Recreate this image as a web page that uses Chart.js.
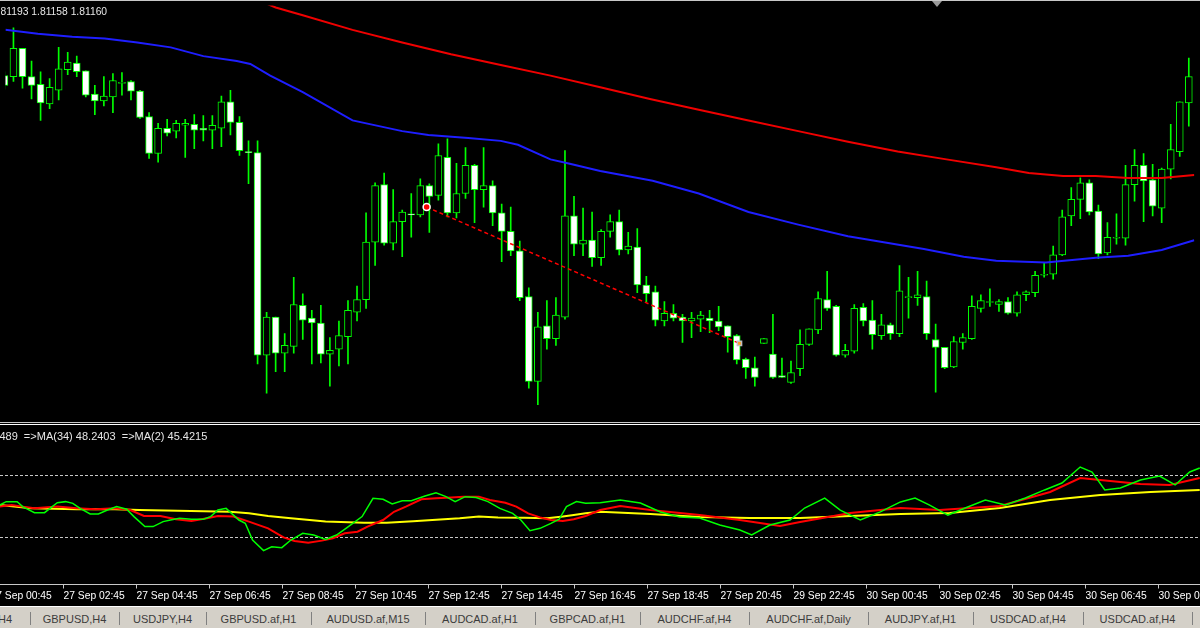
<!DOCTYPE html>
<html>
<head>
<meta charset="utf-8">
<title>GBPCAD M15</title>
<script src="https://cdn.jsdelivr.net/npm/chart.js@4.4.1/dist/chart.umd.min.js"></script>
<style>
  body { margin: 0; width: 1200px; height: 628px; background: #000; overflow: hidden; position: relative; font-family: "Liberation Sans", Arial, sans-serif; }
  canvas { position: absolute; left: 0; }
  #chartPreco { top: 0; }
  #chartIndicador { top: 428px; }
  .txt { position: absolute; color: #e6e6e6; font-size: 10.3px; line-height: 11px; white-space: pre; }
  #bordaTopo { position: absolute; left: 0; top: 0; width: 1200px; height: 1px; background: #c8c8c8; }
  #marcaShift { position: absolute; left: 932px; top: 1px; width: 0; height: 0; border-left: 5px solid transparent; border-right: 5px solid transparent; border-top: 6px solid #9a9a9a; }
  .linhaSep { position: absolute; left: 0; width: 1200px; height: 1px; }
  #abas { position: absolute; left: 0; top: 606px; width: 1200px; height: 22px; background: #d4d0c8; border-top: 1px solid #ffffff; box-sizing: border-box; }
  .aba { position: absolute; top: 6px; font-size: 11px; line-height: 13px; color: #3c3c3c; white-space: nowrap; transform: translateX(-50%); }
  .barra { position: absolute; top: 5px; width: 1px; height: 13px; background: #808080; }
</style>
</head>
<body>
<canvas id="chartPreco" width="1200" height="421"></canvas>
<canvas id="chartIndicador" width="1200" height="178"></canvas>
<div id="bordaTopo"></div>
<div id="marcaShift"></div>
<div class="linhaSep" style="top:422px;background:#c8c8c8"></div>
<div class="linhaSep" style="top:424px;background:#ffffff"></div>
<div class="txt" style="left:-8px;top:6px">1.81193 1.81158 1.81160</div>
<div class="txt" style="left:-22px;top:431px;font-size:11px">46.5489  =>MA(34) 48.2403  =>MA(2) 45.4215</div>
<div id="abas"></div>
<script>
// Velas M15 (da esquerda para a direita)
const open = [
  1.81928, 1.81927, 1.81956, 1.81927, 1.81919, 1.81899, 1.81913, 1.81934, 1.81941, 1.81933,
  1.81909, 1.81902, 1.81906, 1.81920, 1.81922, 1.81912, 1.81886, 1.81848, 1.81874, 1.81871,
  1.81877, 1.81878, 1.81874, 1.81872, 1.81874, 1.81901, 1.81880, 1.81850, 1.81849, 1.81641,
  1.81680, 1.81643, 1.81650, 1.81692, 1.81679, 1.81674, 1.81642, 1.81647, 1.81660, 1.81685,
  1.81698, 1.81757, 1.81816, 1.81756, 1.81778, 1.81786, 1.81785, 1.81815, 1.81805, 1.81844,
  1.81787, 1.81807, 1.81836, 1.81811, 1.81815, 1.81787, 1.81768, 1.81748, 1.81701, 1.81614,
  1.81671, 1.81658, 1.81680, 1.81784, 1.81755, 1.81759, 1.81741, 1.81768, 1.81778, 1.81749,
  1.81752, 1.81713, 1.81706, 1.81676, 1.81684, 1.81680, 1.81676, 1.81678, 1.81679, 1.81676,
  1.81671, 1.81661, 1.81637, 1.81628, 1.81653, 1.81642, 1.81620, 1.81613, 1.81627, 1.81652,
  1.81667, 1.81698, 1.81691, 1.81641, 1.81645, 1.81690, 1.81677, 1.81661, 1.81672, 1.81663,
  1.81700, 1.81700, 1.81701, 1.81657, 1.81649, 1.81629, 1.81654, 1.81658, 1.81689, 1.81695,
  1.81693, 1.81696, 1.81684, 1.81703, 1.81705, 1.81723, 1.81724, 1.81744, 1.81784, 1.81801,
  1.81818, 1.81789, 1.81746, 1.81761, 1.81761, 1.81816, 1.81836, 1.81821, 1.81792, 1.81832,
  1.81850, 1.81900
];
const high = [
  1.81932, 1.81977, 1.81956, 1.81943, 1.81932, 1.81925, 1.81957, 1.81952, 1.81948, 1.81933,
  1.81918, 1.81927, 1.81930, 1.81931, 1.81923, 1.81913, 1.81890, 1.81879, 1.81883, 1.81882,
  1.81883, 1.81888, 1.81887, 1.81887, 1.81907, 1.81913, 1.81886, 1.81861, 1.81861, 1.81685,
  1.81680, 1.81663, 1.81721, 1.81704, 1.81687, 1.81692, 1.81659, 1.81676, 1.81697, 1.81712,
  1.81787, 1.81818, 1.81828, 1.81811, 1.81790, 1.81807, 1.81822, 1.81817, 1.81858, 1.81863,
  1.81838, 1.81854, 1.81837, 1.81854, 1.81820, 1.81796, 1.81793, 1.81758, 1.81710, 1.81685,
  1.81697, 1.81700, 1.81851, 1.81804, 1.81792, 1.81788, 1.81770, 1.81785, 1.81790, 1.81767,
  1.81771, 1.81722, 1.81712, 1.81696, 1.81693, 1.81683, 1.81685, 1.81686, 1.81687, 1.81691,
  1.81671, 1.81662, 1.81638, 1.81639, 1.81658, 1.81683, 1.81638, 1.81635, 1.81667, 1.81668,
  1.81706, 1.81727, 1.81692, 1.81652, 1.81693, 1.81694, 1.81697, 1.81683, 1.81674, 1.81733,
  1.81721, 1.81727, 1.81717, 1.81673, 1.81649, 1.81660, 1.81663, 1.81702, 1.81703, 1.81709,
  1.81698, 1.81700, 1.81706, 1.81707, 1.81727, 1.81736, 1.81753, 1.81790, 1.81813, 1.81823,
  1.81821, 1.81795, 1.81777, 1.81786, 1.81836, 1.81852, 1.81848, 1.81837, 1.81833, 1.81878,
  1.81901, 1.81946
];
const low = [
  1.81914, 1.81922, 1.81915, 1.81904, 1.81882, 1.81894, 1.81903, 1.81929, 1.81927, 1.81906,
  1.81888, 1.81897, 1.81890, 1.81908, 1.81903, 1.81884, 1.81843, 1.81839, 1.81866, 1.81864,
  1.81844, 1.81853, 1.81861, 1.81853, 1.81855, 1.81867, 1.81846, 1.81817, 1.81632, 1.81602,
  1.81624, 1.81624, 1.81643, 1.81657, 1.81632, 1.81633, 1.81609, 1.81630, 1.81632, 1.81676,
  1.81689, 1.81733, 1.81754, 1.81749, 1.81742, 1.81762, 1.81783, 1.81767, 1.81800, 1.81783,
  1.81782, 1.81802, 1.81777, 1.81793, 1.81774, 1.81737, 1.81743, 1.81697, 1.81607, 1.81590,
  1.81647, 1.81651, 1.81678, 1.81743, 1.81743, 1.81732, 1.81733, 1.81762, 1.81744, 1.81745,
  1.81705, 1.81696, 1.81671, 1.81671, 1.81676, 1.81654, 1.81659, 1.81665, 1.81664, 1.81666,
  1.81644, 1.81632, 1.81617, 1.81609, 1.81653, 1.81617, 1.81618, 1.81612, 1.81620, 1.81651,
  1.81663, 1.81687, 1.81640, 1.81639, 1.81643, 1.81671, 1.81647, 1.81657, 1.81657, 1.81660,
  1.81679, 1.81692, 1.81657, 1.81603, 1.81627, 1.81628, 1.81647, 1.81657, 1.81685, 1.81691,
  1.81686, 1.81683, 1.81681, 1.81697, 1.81701, 1.81721, 1.81719, 1.81743, 1.81774, 1.81781,
  1.81785, 1.81740, 1.81744, 1.81755, 1.81754, 1.81799, 1.81778, 1.81784, 1.81777, 1.81822,
  1.81845, 1.81876
];
const close = [
  1.81918, 1.81956, 1.81927, 1.81918, 1.81900, 1.81916, 1.81935, 1.81942, 1.81932, 1.81908,
  1.81902, 1.81907, 1.81923, 1.81921, 1.81912, 1.81885, 1.81848, 1.81874, 1.81869, 1.81879,
  1.81879, 1.81872, 1.81872, 1.81877, 1.81901, 1.81880, 1.81851, 1.81849, 1.81641, 1.81680,
  1.81643, 1.81651, 1.81693, 1.81677, 1.81674, 1.81642, 1.81646, 1.81661, 1.81687, 1.81698,
  1.81757, 1.81815, 1.81756, 1.81778, 1.81788, 1.81785, 1.81815, 1.81804, 1.81846, 1.81787,
  1.81807, 1.81836, 1.81811, 1.81815, 1.81787, 1.81768, 1.81748, 1.81700, 1.81614, 1.81670,
  1.81658, 1.81682, 1.81784, 1.81755, 1.81759, 1.81741, 1.81768, 1.81778, 1.81749, 1.81753,
  1.81713, 1.81704, 1.81677, 1.81684, 1.81679, 1.81676, 1.81679, 1.81682, 1.81676, 1.81670,
  1.81660, 1.81636, 1.81628, 1.81618, 1.81658, 1.81618, 1.81618, 1.81623, 1.81652, 1.81668,
  1.81699, 1.81689, 1.81641, 1.81646, 1.81689, 1.81676, 1.81662, 1.81672, 1.81663, 1.81707,
  1.81701, 1.81703, 1.81663, 1.81649, 1.81628, 1.81655, 1.81659, 1.81691, 1.81697, 1.81696,
  1.81696, 1.81684, 1.81703, 1.81706, 1.81723, 1.81724, 1.81744, 1.81783, 1.81801, 1.81818,
  1.81788, 1.81745, 1.81762, 1.81762, 1.81816, 1.81836, 1.81820, 1.81794, 1.81832, 1.81852,
  1.81901, 1.81927
];

// Médias móveis no gráfico de preço (índice da vela, preço)
const maVermelhaX = [26.4, 30.0, 33.0, 38.5, 44.0, 49.4, 54.9, 60.4, 65.9, 71.4, 76.8, 82.3, 87.8, 93.3, 98.8, 104.2, 109.7, 113.3, 117.1, 120.7, 124.3, 128.0, 131.6];
const maVermelhaY = [1.82012, 1.81998, 1.81990, 1.81975, 1.81962, 1.81950, 1.81939, 1.81928, 1.81916, 1.81904, 1.81893, 1.81882, 1.81871, 1.81860, 1.81850, 1.81842, 1.81834, 1.81828, 1.81825, 1.81825, 1.81823, 1.81823, 1.81826];
const maAzulX = [0.1, 3.7, 7.5, 11.1, 14.7, 18.4, 22.0, 25.7, 27.2, 29.4, 33.0, 38.5, 44.0, 46.9, 51.3, 54.9, 56.8, 60.4, 62.3, 65.9, 71.7, 76.8, 82.3, 87.8, 93.3, 101.7, 106.1, 109.7, 115.2, 120.7, 124.3, 128.0, 131.6];
const maAzulY = [1.81975, 1.81971, 1.81968, 1.81966, 1.81962, 1.81957, 1.81948, 1.81943, 1.81940, 1.81928, 1.81911, 1.81882, 1.81871, 1.81867, 1.81864, 1.81861, 1.81857, 1.81842, 1.81838, 1.81830, 1.81820, 1.81807, 1.81788, 1.81775, 1.81763, 1.81750, 1.81742, 1.81738, 1.81736, 1.81741, 1.81743, 1.81749, 1.81759];

// Linha de tendência desenhada no gráfico
const tendenciaX = [46.7, 81.3];
const tendenciaY = [1.81793, 1.81653];

// Indicador (janela inferior, 0 a 100)
const verdeX = [0.1, 0.8, 2.0, 2.6, 3.9, 5.0, 5.6, 6.4, 7.3, 8.1, 8.9, 10.0, 10.9, 11.9, 12.9, 14.0, 14.8, 16.0, 16.9, 18.0, 18.8, 19.8, 21.1, 22.4, 23.2, 24.0, 24.9, 25.5, 26.3, 27.0, 27.8, 29.0, 29.9, 31.0, 32.0, 33.3, 34.5, 35.8, 37.0, 38.3, 39.8, 41.0, 42.1, 43.1, 44.2, 45.2, 46.7, 47.9, 49.0, 50.0, 51.1, 52.3, 53.6, 54.9, 56.3, 57.2, 58.2, 59.3, 60.5, 61.4, 62.2, 63.3, 64.3, 65.9, 68.1, 70.3, 72.5, 74.6, 76.8, 79.0, 81.2, 82.5, 84.5, 86.7, 88.3, 90.5, 92.2, 94.4, 96.6, 98.8, 100.4, 102.0, 104.0, 105.9, 108.1, 110.3, 112.5, 114.6, 116.5, 118.5, 119.8, 121.2, 122.9, 125.1, 127.2, 128.9, 130.5, 131.6];
const verdeV = [50.6, 52.8, 52.8, 49.6, 45.7, 45.7, 48.5, 52.1, 52.8, 51.7, 48.5, 44.9, 44.9, 47.4, 49.6, 47.9, 43.2, 36.8, 36.8, 40.0, 41.0, 42.1, 41.5, 41.5, 43.2, 47.4, 48.5, 45.3, 41.0, 38.9, 28.2, 21.4, 23.9, 23.3, 28.2, 32.5, 31.4, 28.6, 31.4, 36.8, 43.2, 54.9, 54.3, 51.3, 53.4, 53.4, 56.4, 58.5, 56.0, 52.8, 56.0, 55.5, 52.8, 48.5, 45.3, 41.0, 34.2, 35.7, 38.9, 41.5, 49.6, 52.8, 51.7, 52.1, 53.8, 51.9, 46.2, 42.9, 42.3, 37.8, 34.6, 31.4, 37.8, 41.0, 48.7, 55.1, 47.4, 41.0, 46.2, 52.6, 55.1, 50.6, 44.2, 48.7, 53.8, 50.6, 55.1, 60.3, 64.7, 75.0, 71.8, 60.3, 61.5, 66.7, 69.2, 63.5, 71.8, 74.4];
const vermelhoX = [0.1, 1.4, 2.6, 3.9, 6.4, 8.5, 10.6, 12.7, 14.4, 15.9, 17.7, 19.4, 21.1, 22.8, 24.0, 25.7, 27.4, 29.5, 31.2, 32.4, 33.9, 35.4, 36.6, 37.9, 39.3, 40.4, 42.1, 43.3, 44.6, 46.3, 47.9, 49.6, 50.9, 52.6, 53.8, 55.5, 56.7, 58.0, 59.3, 60.5, 61.8, 63.0, 64.3, 65.9, 68.1, 71.4, 76.8, 81.2, 85.6, 87.8, 93.3, 98.8, 103.1, 106.4, 109.7, 115.2, 118.5, 120.7, 125.1, 128.3, 131.6];
const vermelhoV = [49.6, 50.6, 49.6, 48.5, 49.6, 48.5, 47.9, 48.5, 47.4, 43.6, 43.6, 41.5, 40.4, 42.1, 43.6, 43.2, 40.0, 35.7, 29.9, 27.6, 26.5, 27.8, 29.3, 32.5, 33.5, 36.8, 41.0, 46.3, 49.6, 54.3, 54.9, 55.5, 56.0, 56.0, 53.8, 52.1, 49.6, 45.3, 42.7, 41.0, 40.4, 41.5, 43.6, 47.4, 50.0, 47.4, 44.2, 41.0, 37.2, 39.7, 45.5, 48.7, 47.4, 48.7, 50.0, 59.0, 67.9, 66.7, 64.1, 63.5, 67.9];
const amareloX = [0.1, 3.5, 8.5, 12.7, 15.4, 19.6, 25.3, 27.4, 29.5, 32.0, 35.8, 40.0, 42.5, 45.4, 47.5, 50.5, 52.6, 54.7, 57.6, 60.1, 61.8, 63.0, 64.3, 65.9, 71.4, 76.8, 82.3, 87.8, 93.3, 98.8, 104.2, 109.7, 115.2, 120.7, 126.2, 131.6];
const amareloV = [50.6, 48.5, 47.9, 47.9, 47.4, 47.0, 46.3, 45.3, 43.6, 42.1, 40.0, 39.3, 39.3, 40.2, 41.0, 42.1, 43.2, 42.7, 42.5, 42.1, 43.2, 44.2, 45.3, 46.3, 44.9, 42.9, 42.3, 42.3, 43.6, 44.9, 45.5, 48.7, 53.8, 57.0, 59.0, 60.3];
const niveis = [30, 70];

// Eixo de tempo
const tickIdx = [-1, 7, 15, 23, 31, 39, 47, 55, 63, 71, 79, 87, 95, 103, 111, 119, 127];
const tickLabels = [
  "27 Sep 00:45", "27 Sep 02:45", "27 Sep 04:45", "27 Sep 06:45", "27 Sep 08:45",
  "27 Sep 10:45", "27 Sep 12:45", "27 Sep 14:45", "27 Sep 16:45", "27 Sep 18:45",
  "27 Sep 20:45", "29 Sep 22:45", "30 Sep 00:45", "30 Sep 02:45", "30 Sep 04:45",
  "30 Sep 06:45", "30 Sep 08:45"
];

// Abas dos gráficos abertos
const abas = ["H4", "GBPUSD,H4", "USDJPY,H4", "GBPUSD.af,H1", "AUDUSD.af,M15", "AUDCAD.af,H1", "GBPCAD.af,H1", "AUDCHF.af,H4", "AUDCHF.af,Daily", "AUDJPY.af,H1", "USDCAD.af,H4", "USDCAD.af,H4"];

// janela visível em unidades de vela (9,125 px por vela)
const xMin = 0.12, xMax = 131.63;
const precoMin = 1.81579, precoMax = 1.82000;

const pontos = (xs, ys) => xs.map((x, k) => ({ x: x, y: ys[k] }));
const pavios = low.map((l, k) => ({ x: k, y: [l, high[k]] }));
const corpos = open.map((o, k) => ({ x: k, y: [o, close[k]] }));
const corCorpo = open.map((o, k) => (close[k] > o ? "#000000" : "#ffffff"));

const opcoesBase = {
  responsive: false,
  animation: false,
  events: [],
  plugins: { legend: { display: false }, tooltip: { enabled: false } },
  elements: { point: { radius: 0 }, line: { tension: 0 } },
};

new Chart(document.getElementById("chartPreco"), {
  type: "bar",
  data: {
    datasets: [
      {
        type: "line",
        label: "Tendência",
        data: pontos(tendenciaX, tendenciaY),
        borderColor: "#ff0000",
        borderWidth: 1.5,
        borderDash: [4, 3],
        pointRadius: [3.5, 3],
        pointStyle: ["circle", "rect"],
        pointBackgroundColor: ["#ff0000", "#ffa020"],
        pointBorderColor: ["#ffffff", "#c0c0c0"],
        pointBorderWidth: 1.5,
        order: 0,
      },
      {
        type: "line",
        label: "MA lenta",
        data: pontos(maVermelhaX, maVermelhaY),
        borderColor: "#f00000",
        borderWidth: 2,
        order: 1,
      },
      {
        type: "line",
        label: "MA rápida",
        data: pontos(maAzulX, maAzulY),
        borderColor: "#1e1eff",
        borderWidth: 2,
        order: 2,
      },
      {
        label: "Corpo",
        data: corpos,
        backgroundColor: corCorpo,
        borderColor: "#00ff00",
        borderWidth: 1,
        borderSkipped: false,
        barThickness: 7,
        grouped: false,
        order: 3,
      },
      {
        label: "Pavio",
        data: pavios,
        backgroundColor: "#00ff00",
        borderWidth: 0,
        barThickness: 1,
        grouped: false,
        order: 4,
      },
    ],
  },
  options: {
    ...opcoesBase,
    scales: {
      x: { type: "linear", min: xMin, max: xMax, offset: false, display: false },
      y: { min: precoMin, max: precoMax, display: false },
    },
  },
});

// Linhas de nível pontilhadas (30 / 70)
const niveisPlugin = {
  id: "niveis",
  beforeDatasetsDraw(chart) {
    const { ctx, chartArea, scales } = chart;
    ctx.save();
    ctx.strokeStyle = "#c8c8c8";
    ctx.lineWidth = 1;
    ctx.setLineDash([3, 2]);
    niveis.forEach((n) => {
      const y = Math.round(scales.y.getPixelForValue(n)) + 0.5;
      ctx.beginPath();
      ctx.moveTo(chartArea.left, y);
      ctx.lineTo(chartArea.right, y);
      ctx.stroke();
    });
    ctx.restore();
  },
};

// Eixo de tempo no rodapé da janela do indicador
const eixoTempo = {
  id: "eixoTempo",
  afterDraw(chart) {
    const { ctx, chartArea, scales } = chart;
    const y0 = chartArea.bottom + 0.5;
    ctx.save();
    ctx.strokeStyle = "#c8c8c8";
    ctx.lineWidth = 1;
    ctx.beginPath();
    ctx.moveTo(0, y0);
    ctx.lineTo(chart.width, y0);
    ctx.stroke();
    ctx.fillStyle = "#ffffff";
    ctx.font = '10.3px "Liberation Sans"';
    ctx.textBaseline = "alphabetic";
    tickIdx.forEach((t, n) => {
      const x = Math.round(scales.x.getPixelForValue(t)) + 0.5;
      ctx.beginPath();
      ctx.moveTo(x, y0);
      ctx.lineTo(x, y0 + 4);
      ctx.stroke();
      ctx.fillText(tickLabels[n], x, y0 + 14);
    });
    ctx.restore();
  },
};

new Chart(document.getElementById("chartIndicador"), {
  type: "line",
  data: {
    datasets: [
      { label: "Principal", data: pontos(verdeX, verdeV), borderColor: "#00ff00", borderWidth: 1.5 },
      { label: "MA(2)", data: pontos(vermelhoX, vermelhoV), borderColor: "#ff0000", borderWidth: 2 },
      { label: "MA(34)", data: pontos(amareloX, amareloV), borderColor: "#ffff00", borderWidth: 2 },
    ],
  },
  options: {
    ...opcoesBase,
    layout: { padding: { bottom: 22 } },
    scales: {
      x: { type: "linear", min: xMin, max: xMax, offset: false, display: false },
      y: { min: 0, max: 100, display: false },
    },
  },
  plugins: [niveisPlugin, eixoTempo],
});

// Barra de abas (separadores nas posições da tela original)
const sepAbas = [30, 119, 206, 311, 425, 535, 640, 749, 868, 973, 1083, 1192];
const barraAbas = document.getElementById("abas");
abas.forEach((nome, k) => {
  const el = document.createElement("div");
  el.className = "aba";
  el.textContent = nome;
  const esq = k === 0 ? -20 : sepAbas[k - 1];
  el.style.left = (esq + sepAbas[k]) / 2 + "px";
  barraAbas.appendChild(el);
});
sepAbas.forEach((x) => {
  const b = document.createElement("div");
  b.className = "barra";
  b.style.left = x + "px";
  barraAbas.appendChild(b);
});
</script>
</body>
</html>
